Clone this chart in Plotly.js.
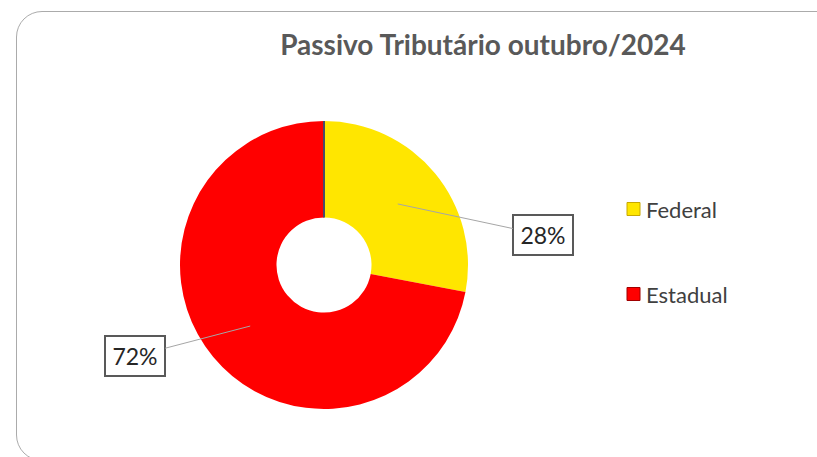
<!DOCTYPE html>
<html>
<head>
<meta charset="utf-8">
<script src="https://cdn.plot.ly/plotly-3.0.1.min.js"></script>
<style>
  html, body { margin: 0; padding: 0; background: #fff; overflow: hidden; }
  #wrap { position: relative; width: 817px; height: 457px; }
  #chart { position: absolute; left: 0; top: 0; width: 817px; height: 457px; }
  #frame { position: absolute; left: 16px; top: 11px; width: 830px; height: 450px;
           border: 1.5px solid #ababab; border-radius: 26px; pointer-events: none; box-sizing: border-box; }
</style>
</head>
<body>
<div id="wrap">
  <div id="chart"></div>
  <div id="frame"></div>
</div>
<script>
// ---- data ----
const labels = ['Federal', 'Estadual'];
const values = [28, 72];
const colors = ['#FFE600', '#FF0000'];
const chartTitle = 'Passivo Tributário outubro/2024';

// ---- layout constants (pixels) ----
const W = 817, H = 457;
const cx = 324, cy = 265, R = 144;
const holeRatio = 0.33;
const labelOffsets = [[145, 31], [-115, 30]];      // box centre relative to tip
const legendPos = [[627, 209], [627, 294]];        // square left / centre y
const FONT = 'Lato, "Open Sans", sans-serif';

const px = x => x / W;
const py = y => 1 - y / H;

const total = values.reduce((a, b) => a + b, 0);

const trace = {
  type: 'pie',
  labels: labels,
  values: values,
  hole: holeRatio,
  sort: false,
  direction: 'clockwise',
  rotation: 0,
  textinfo: 'none',
  hoverinfo: 'label+percent',
  showlegend: false,
  marker: { colors: colors, line: { width: 0 } },
  domain: { x: [px(cx - R), px(cx + R)], y: [py(cy + R), py(cy - R)] }
};

const annotations = [];
const shapes = [];
// thin dark seam at the start of the first slice (12 o'clock)
shapes.push({
  type: 'line', xref: 'paper', yref: 'paper',
  x0: px(cx), x1: px(cx), y0: py(cy - R), y1: py(cy - R * holeRatio),
  line: { color: '#4a4a6a', width: 2 }
});
let cum = 0;
const rMid = R * (1 + holeRatio) / 2;
values.forEach((v, i) => {
  const frac = v / total;
  const mid = (cum + frac / 2) * 2 * Math.PI;
  cum += frac;
  const tx = cx + rMid * Math.sin(mid);
  const ty = cy - rMid * Math.cos(mid);
  annotations.push({
    xref: 'paper', yref: 'paper', x: px(tx), y: py(ty),
    ax: labelOffsets[i][0], ay: labelOffsets[i][1],
    showarrow: true, arrowhead: 0, arrowwidth: 1, arrowcolor: '#a6a6a6', standoff: 0,
    text: Math.round(frac * 100) + '%',
    font: { family: FONT, size: 23, color: '#262626' },
    bgcolor: '#ffffff', bordercolor: '#595959', borderwidth: 2, borderpad: 2,
    width: 54, height: 34
  });
  // legend
  const [lx, ly] = legendPos[i];
  shapes.push({
    type: 'rect', xref: 'paper', yref: 'paper',
    x0: px(lx), x1: px(lx + 13), y0: py(ly + 6.5), y1: py(ly - 6.5),
    fillcolor: colors[i], line: { color: i === 0 ? '#c8a800' : '#a00000', width: 1 }
  });
  annotations.push({
    xref: 'paper', yref: 'paper', x: px(lx + 17), y: py(ly),
    xanchor: 'left', yanchor: 'middle', showarrow: false,
    text: labels[i], font: { family: FONT, size: 22, color: '#404040' }
  });
});

const layout = {
  width: W, height: H,
  margin: { l: 0, r: 0, t: 0, b: 0 },
  paper_bgcolor: '#ffffff',
  title: {
    text: chartTitle, x: px(483), xanchor: 'center', y: py(45), yanchor: 'middle',
    font: { family: FONT, size: 28, color: '#595959', weight: 'bold' }
  },
  annotations: annotations,
  shapes: shapes
};

Plotly.newPlot('chart', [trace], layout, { displayModeBar: false, staticPlot: true });
</script>
</body>
</html>
